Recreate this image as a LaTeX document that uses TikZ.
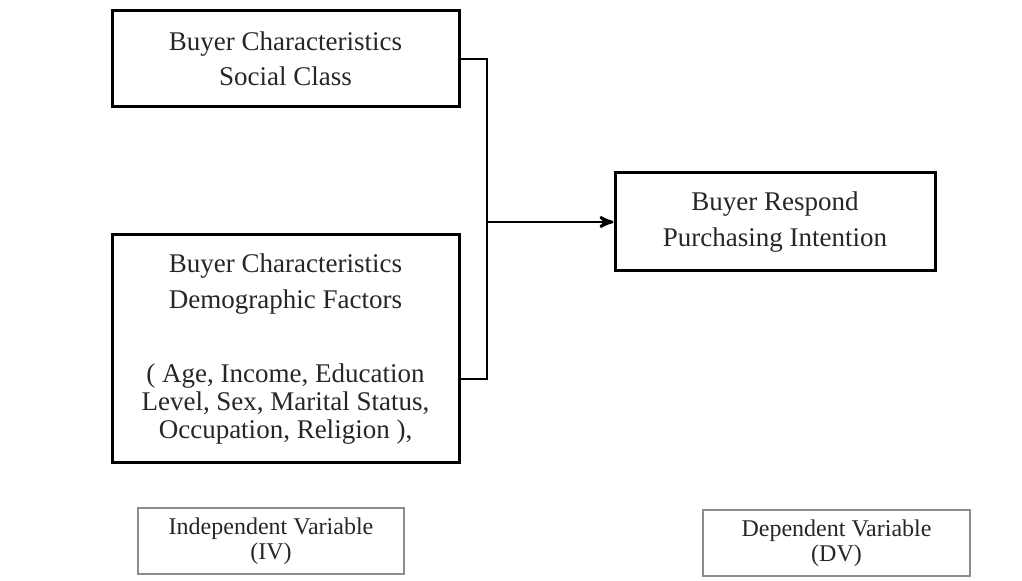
\documentclass[tikz,border=0pt]{standalone}
\usepackage{fontspec}
\setmainfont{Liberation Serif}
\usetikzlibrary{arrows,positioning}
\tikzset{>=stealth',
  mainbox/.style={draw, line width=1.5pt, align=center, inner sep=0pt,
    text=black!85, font=\fontsize{13.5}{14}\selectfont},
  varbox/.style={draw=black!45, line width=0.6pt, align=center, inner sep=0pt,
    text=black!85, font=\fontsize{12}{12.5}\selectfont},
  link/.style={line width=1.4pt}}

\begin{document}
\begin{tikzpicture}[x=0.5pt,y=-0.5pt]
  \useasboundingbox (0,0) rectangle (1022,581);
  % independent side
  \node (social) [mainbox, minimum width=173.5pt, minimum height=48pt]
    at (285.5,59) {Buyer Characteristics\\[3.5pt] Social Class};
  \node (demo) [mainbox, minimum width=173.5pt, minimum height=114pt,
    below=62.5pt of social]
    {Buyer Characteristics\\[4pt] Demographic Factors\\[23pt]
     ( Age, Income, Education\\ Level, Sex, Marital Status,\\
     Occupation, Religion ),};
  % dependent side
  \node (respond) [mainbox, minimum width=160pt, minimum height=49pt]
    at (775,222) {\rule{0pt}{6pt}Buyer Respond\\[4pt] Purchasing Intention};
  \coordinate (split) at (487,222);
  \draw [link] (social.east) -| (split);
  \draw [link] ([yshift=-15pt]demo.east) -| (split);
  \draw [link, ->] (split) -- (respond);
  % variable labels
  \node (iv) [varbox, minimum width=133pt, minimum height=33pt]
    at (271,541) {Independent Variable\\ (IV)};
  \node (dv) [varbox, minimum width=133.5pt, minimum height=33pt]
    at (836.5,543) {Dependent Variable\\ (DV)};
\end{tikzpicture}
\end{document}
